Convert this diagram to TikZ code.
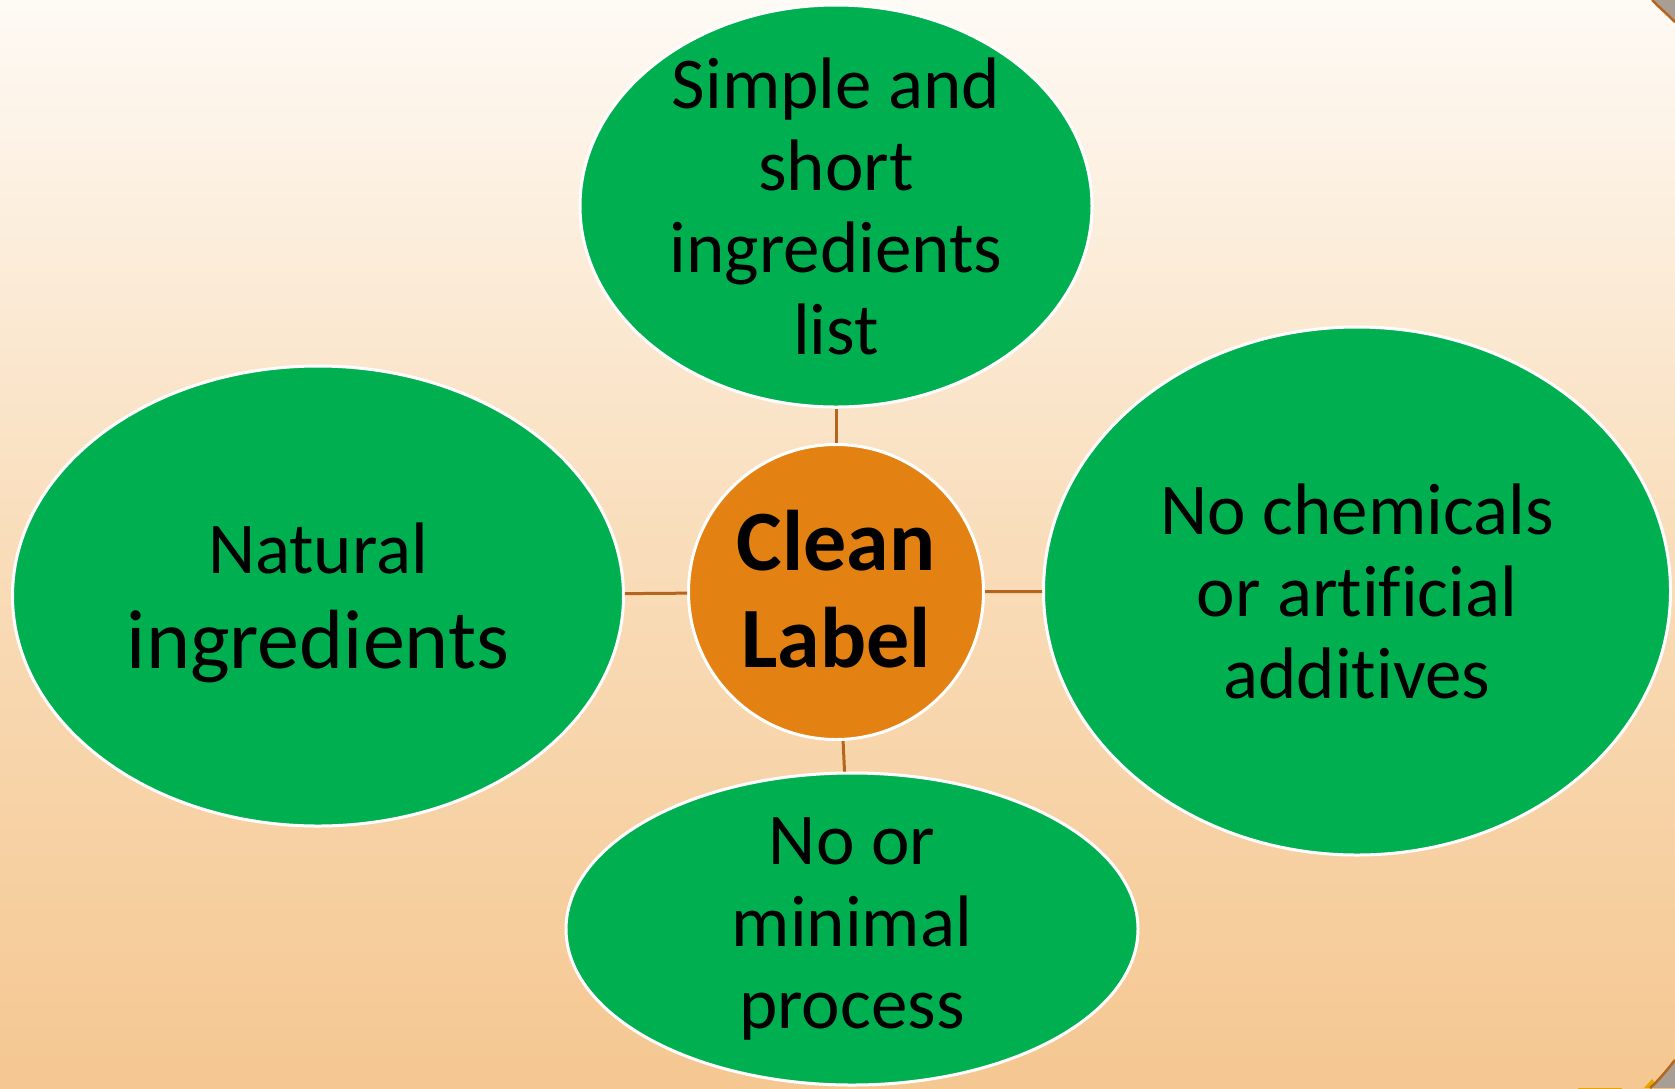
\documentclass[tikz,border=0pt]{standalone}
\usepackage{fontspec}
\setmainfont{Carlito}[Ligatures={NoCommon}]
\usetikzlibrary{shapes.geometric}
\definecolor{bgtop}{HTML}{FEFAF5}
\definecolor{bgmid}{HTML}{F9DDBA}
\definecolor{bgbot}{HTML}{F5C791}
\definecolor{leafgreen}{HTML}{00B050}
\definecolor{hub}{HTML}{E38212}
\definecolor{link}{HTML}{B5651D}
\definecolor{curl}{HTML}{A89E94}
\definecolor{gold}{HTML}{E2A800}
\tikzset{
  leaf/.style={ellipse, fill=leafgreen, draw=white, line width=3pt, inner sep=0pt},
  hubnode/.style={circle, fill=hub, draw=white, line width=3pt, inner sep=0pt, minimum size=295pt},
  leaftext/.style={align=center, text=black, inner sep=0pt, font=\fontsize{73}{82}\selectfont},
  hubtext/.style={anchor=base, inner sep=0pt, text=black, font=\bfseries\fontsize{86}{97}\selectfont},
  connector/.style={draw=link, line width=3pt}
}
\begin{document}
\begin{tikzpicture}[x=1pt,y=-1pt]
\useasboundingbox (0,0) rectangle (1675,1088);
\shade[top color=bgtop, bottom color=bgbot, middle color=bgmid] (0,0) rectangle (1675,1088);
% corner decorations
\fill[curl] (1652,0) .. controls (1660,8) and (1668,15) .. (1675,22) -- (1675,0) -- cycle;
\draw[link, line width=2.5pt] (1652,0) .. controls (1660,8) and (1668,15) .. (1675,22);
\fill[gold] (1578,1088) arc[start angle=180, end angle=0, x radius=22, y radius=8] -- cycle;
\fill[curl] (1675,1060) .. controls (1667,1070) and (1659,1080) .. (1650,1088) -- (1675,1088) -- cycle;
\fill[gold] (1644,1088) -- (1652,1079) -- (1656,1084) -- (1652,1088) -- cycle;
\draw[link, line width=2.5pt] (1675,1060) .. controls (1667,1070) and (1659,1080) .. (1650,1088);
% shapes
\node[hubnode] (c) at (836,592) {};
\node[leaf, minimum width=512pt, minimum height=402pt] (t) at (836,206) {};
\node[leaf, minimum width=611pt, minimum height=460pt] (l) at (318,596) {};
\node[leaf, minimum width=627pt, minimum height=528pt] (r) at (1357,591) {};
\node[leaf, minimum width=572pt, minimum height=312pt] (b) at (852,929) {};
% texts
\node[hubtext] (c1) at (836,570) {Clean};
\node[hubtext] (c2) at (836,667) {Label};
\node[leaftext] (tt) at (t) {Simple and\\short\\ingredients\\list};
\node[leaftext, anchor=base, font=\fontsize{73}{82}\selectfont] (l1) at (318,573) {Natural};
\node[leaftext, anchor=base, font=\fontsize{84}{95}\selectfont] (l2) at (318,668) {ingredients};
\node[leaftext] (rt) at (r) {No chemicals\\or artificial\\additives};
\node[leaftext] (bt) at (b) {No or\\minimal\\process};
% connectors
\draw[connector] (c) -- (t);
\draw[connector] (c) -- (l);
\draw[connector] (c) -- (r);
\draw[connector] (c) -- (b);
\end{tikzpicture}
\end{document}
